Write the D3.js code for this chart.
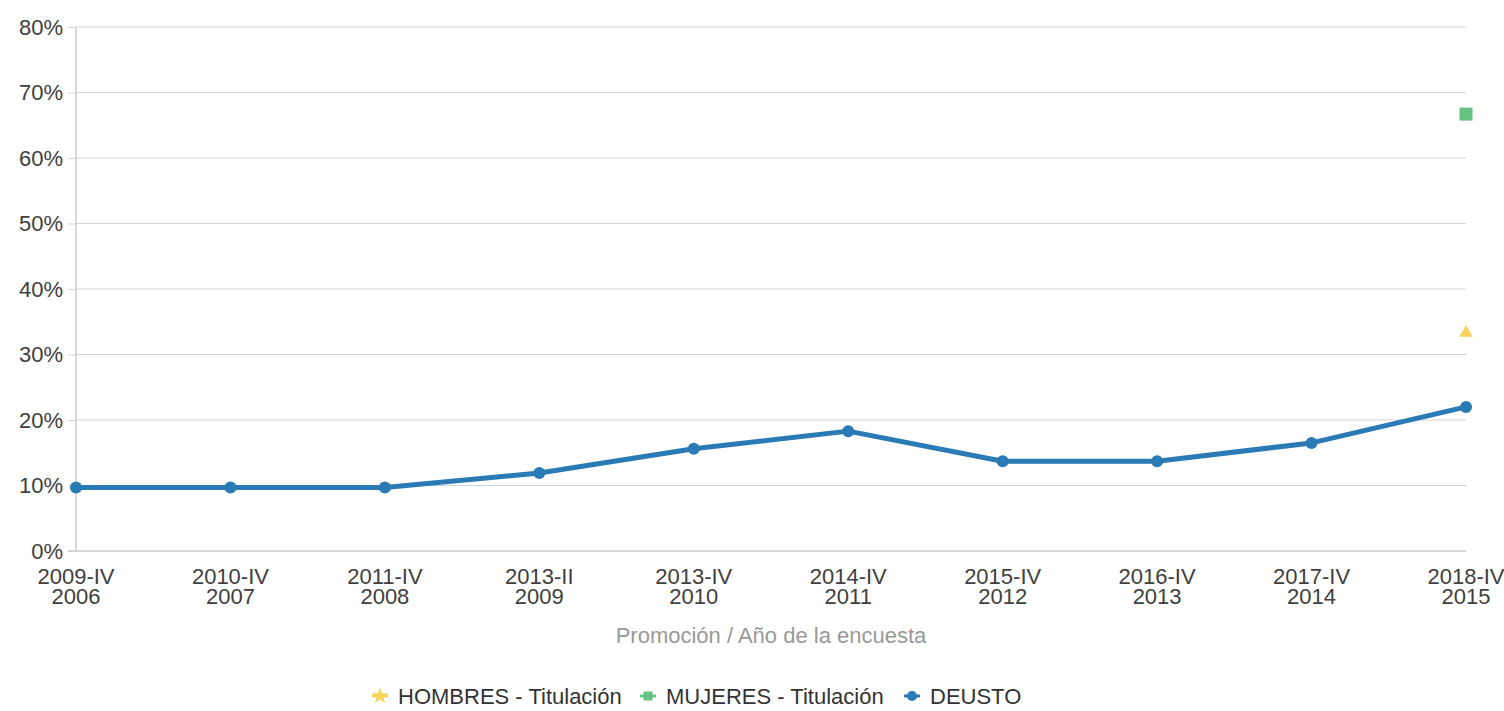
<!DOCTYPE html>
<html>
<head>
<meta charset="utf-8">
<script src="https://cdnjs.cloudflare.com/ajax/libs/d3/7.8.5/d3.min.js"></script>
<style>
  body { margin: 0; background: #fff; }
  text { font-family: "Liberation Sans", Arial, sans-serif; }
</style>
</head>
<body>
<div id="chart"></div>
<script>
// chart data
const promociones = ["2009-IV", "2010-IV", "2011-IV", "2013-II", "2013-IV", "2014-IV", "2015-IV", "2016-IV", "2017-IV", "2018-IV"];
const anios = ["2006", "2007", "2008", "2009", "2010", "2011", "2012", "2013", "2014", "2015"];
const deusto = [9.7, 9.7, 9.7, 11.9, 15.6, 18.3, 13.7, 13.7, 16.5, 22.0];
const hombres = [null, null, null, null, null, null, null, null, null, 33.3];
const mujeres = [null, null, null, null, null, null, null, null, null, 66.7];
const yTicks = [0, 10, 20, 30, 40, 50, 60, 70, 80];

const W = 1504, H = 711;
const mLeft = 76, mRight = 1466, mTop = 27, mBottom = 551;

const svg = d3.select('#chart').append('svg')
    .attr('width', W).attr('height', H);

const x = d3.scalePoint().domain(d3.range(promociones.length)).range([mLeft, mRight]);
const y = d3.scaleLinear().domain([0, 80]).range([mBottom, mTop]);

// gridlines + y labels
const yAxis = svg.append('g')
    .attr('transform', `translate(${mLeft},0)`)
    .call(d3.axisLeft(y).tickValues(yTicks).tickSize(8).tickPadding(5).tickFormat(d => d + '%'));
yAxis.select('.domain').remove();
yAxis.selectAll('line').attr('stroke', '#d4d4d4');
yAxis.selectAll('text').attr('fill', '#404040').style('font-size', '22px');

svg.append('g').selectAll('line.grid')
    .data(yTicks.filter(d => d > 0))
    .enter().append('line')
    .attr('class', 'grid')
    .attr('x1', mLeft).attr('x2', mRight)
    .attr('y1', d => y(d)).attr('y2', d => y(d))
    .attr('stroke', '#d4d4d4').attr('stroke-width', 1);

// axis lines
svg.append('line').attr('x1', mLeft).attr('x2', mLeft).attr('y1', mTop).attr('y2', mBottom)
    .attr('stroke', '#cccccc').attr('stroke-width', 1.5);
svg.append('line').attr('x1', mLeft - 8).attr('x2', mRight).attr('y1', mBottom).attr('y2', mBottom)
    .attr('stroke', '#cccccc').attr('stroke-width', 1.5);

// x labels
const xl = svg.append('g').selectAll('text.xl')
    .data(promociones)
    .enter().append('text')
    .attr('class', 'xl')
    .attr('text-anchor', 'middle')
    .attr('fill', '#404040')
    .style('font-size', '22px');
xl.append('tspan').attr('x', (d, i) => x(i)).attr('y', 584).text(d => d);
xl.append('tspan').attr('x', (d, i) => x(i)).attr('y', 604).text((d, i) => anios[i]);

svg.append('text')
    .attr('x', (mLeft + mRight) / 2).attr('y', 643)
    .attr('text-anchor', 'middle')
    .attr('fill', '#999999')
    .style('font-size', '22px')
    .text('Promoción / Año de la encuesta');

// DEUSTO line
const blue = '#2a7ab5', green = '#66c185', yellow = '#f9d45c';
const line = d3.line().defined(d => d != null).x((d, i) => x(i)).y(d => y(d));
svg.append('path').datum(deusto)
    .attr('d', line)
    .attr('fill', 'none').attr('stroke', blue).attr('stroke-width', 5)
    .attr('stroke-linejoin', 'round');
svg.append('g').selectAll('circle')
    .data(deusto).enter().append('circle')
    .attr('cx', (d, i) => x(i)).attr('cy', d => y(d)).attr('r', 6)
    .attr('fill', blue);

// HOMBRES / MUJERES markers
svg.append('g').selectAll('path.h')
    .data(hombres.map((v, i) => [v, i]).filter(d => d[0] != null))
    .enter().append('path')
    .attr('d', d3.symbol().type(d3.symbolTriangle).size(80))
    .attr('transform', d => `translate(${x(d[1])},${y(d[0])})`)
    .attr('fill', yellow);
svg.append('g').selectAll('rect.m')
    .data(mujeres.map((v, i) => [v, i]).filter(d => d[0] != null))
    .enter().append('rect')
    .attr('x', d => x(d[1]) - 6.5).attr('y', d => y(d[0]) - 6.5)
    .attr('width', 13).attr('height', 13)
    .attr('fill', green);

// legend
const legend = [
  { name: 'HOMBRES - Titulación', color: yellow, sym: d3.symbolStar, x: 380 },
  { name: 'MUJERES - Titulación', color: green, sym: d3.symbolSquare, x: 648 },
  { name: 'DEUSTO', color: blue, sym: d3.symbolCircle, x: 912 }
];
const lg = svg.append('g').selectAll('g').data(legend).enter().append('g')
    .attr('transform', d => `translate(${d.x},696)`);
lg.append('line').attr('x1', -8).attr('x2', 8).attr('stroke', d => d.color).attr('stroke-width', 3);
lg.append('path').attr('d', d => d3.symbol().type(d.sym).size(d.sym === d3.symbolStar ? 90 : 80)())
    .attr('fill', d => d.color);
lg.append('text').attr('x', 18).attr('y', 8)
    .attr('fill', '#333333').style('font-size', '22px')
    .text(d => d.name);
</script>
</body>
</html>
